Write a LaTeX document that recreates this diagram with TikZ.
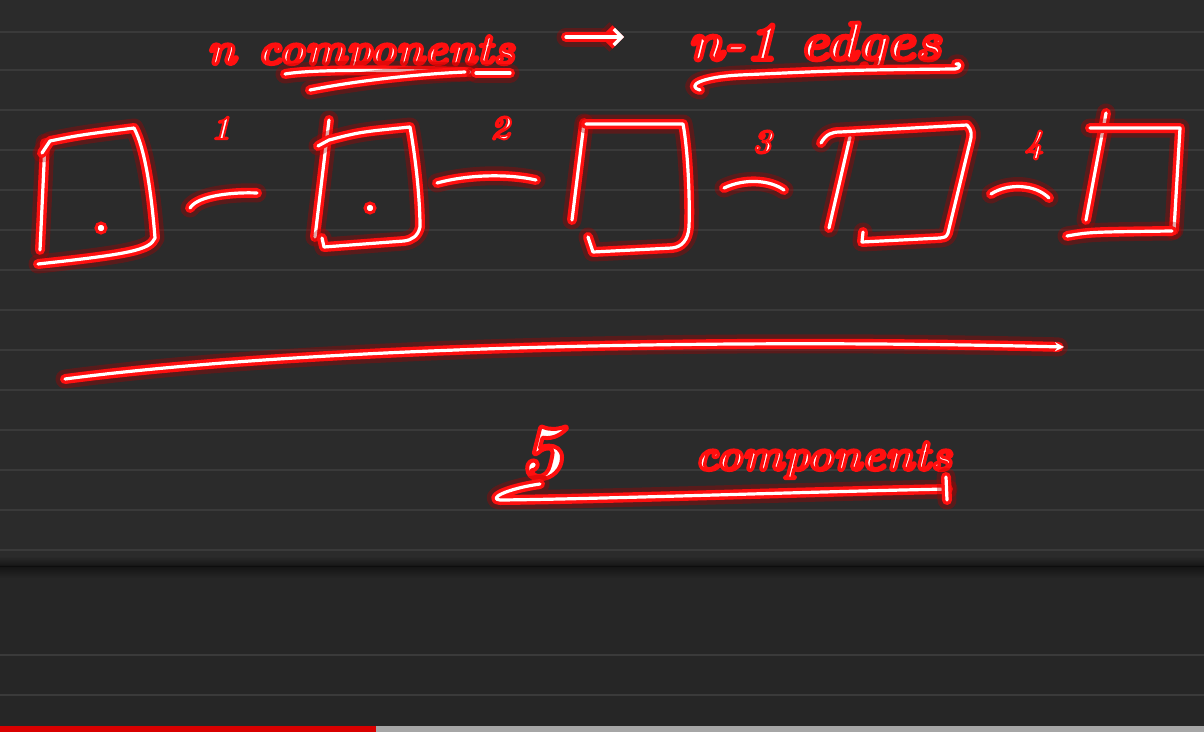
\documentclass[tikz,border=0pt]{standalone}
\usetikzlibrary{arrows.meta}
\definecolor{bg}{HTML}{2B2B2B}
\definecolor{bgdark}{HTML}{262626}
\definecolor{rule}{HTML}{3A3A3A}
\definecolor{glowred}{HTML}{FF1010}
\definecolor{glowdeep}{HTML}{B00000}
\newcommand\glowtxt[2][3.4]{\special{pdf:literal direct 1 0.06 0.06 RG #1 w 1 j 2 Tr}#2\special{pdf:literal direct 0 Tr}}
\tikzset{
  ink/.style={draw=white, line width=3.2pt, line cap=round, line join=round,
    preaction={draw=glowdeep, line width=19pt, opacity=0.35, line cap=round, line join=round},
    preaction={draw=glowred, line width=10pt, line cap=round, line join=round}},
  word/.style={text=white, inner sep=0pt, font=\bfseries\itshape\fontsize{44}{46}\selectfont},
  num/.style={text=white, inner sep=0pt, font=\bfseries\itshape\fontsize{34}{36}\selectfont},
  tip/.style={-{Stealth[length=9pt,width=9pt]}},
  chev/.style={-{Straight Barb[length=8pt,width=16pt]}}
}
\begin{document}
\begin{tikzpicture}[x=1pt,y=-1pt]
\useasboundingbox (0,0) rectangle (1204,732);
% background
\fill[bg] (0,0) rectangle (1204,565);
\fill[bgdark] (0,565) rectangle (1204,732);
\shade[top color=bg, bottom color=black!80!bg, opacity=.6] (0,556) rectangle (1204,566);
\shade[top color=black!80!bg, bottom color=bgdark, opacity=.6] (0,566) rectangle (1204,578);
\foreach \yy in {32,70,110,150,190,230,270,310,350,390,430,470,510,550,655,695}
  \draw[rule, line width=1.5pt] (0,\yy) -- (1204,\yy);
% progress bar
\fill[red!85!black] (0,726) rectangle (376,732);
\fill[gray!70] (376,726) rectangle (1204,732);

% top line of text
\node[word, anchor=base west] (ncomp) at (207,64) {\glowtxt{n\hspace{22pt}components}};
\node[word, anchor=base west, font=\bfseries\itshape\fontsize{54}{56}\selectfont] (edges) at (688,60) {\glowtxt[3.8]{n-1 edges}};
\coordinate (a1) at (566,37);
\coordinate (a2) at (624,37);
\draw[ink, chev] (a1) -- (a2);
% underlines at top
\draw[ink] (285,74) .. controls (320,68) and (420,71) .. (470,72);
\draw[ink] (310,90) .. controls (360,80) and (420,74) .. (465,72);
\draw[ink] (476,73) -- (510,73);
\draw[ink] (700,90) .. controls (686,86) and (700,77) .. (740,75)
  .. controls (850,70) .. (955,69) .. controls (962,68) and (960,62) .. (956,64);

% boxes (hand drawn)
\node[inner sep=0pt, minimum width=115pt, minimum height=130pt] (b1) at (97,195) {};
\draw[ink] (45,143) -- (40,250);
\draw[ink] (42,153) -- (50,141) .. controls (80,135) .. (134,128)
  .. controls (146,150) and (152,200) .. (155,238)
  .. controls (150,250) and (130,254) .. (38,264);
\fill[white] (101,228) circle (3.5pt);
\draw[glowred, line width=3pt] (101,228) circle (5pt);

\node[inner sep=0pt, minimum width=110pt, minimum height=130pt] (b2) at (368,185) {};
\draw[ink] (329,120) -- (315,237);
\draw[ink] (318,146) -- (329,140) .. controls (360,132) .. (410,127)
  .. controls (416,160) and (420,200) .. (420,227)
  .. controls (418,236) and (412,240) .. (404,241) -- (324,247) -- (322,238);
\fill[white] (370,208) circle (3.5pt);
\draw[glowred, line width=3pt] (370,208) circle (5pt);

\node[inner sep=0pt, minimum width=125pt, minimum height=135pt] (b3) at (630,188) {};
\draw[ink] (584,123) -- (572,220);
\draw[ink] (586,124) -- (683,124) .. controls (688,150) and (690,200) .. (689,227)
  .. controls (688,240) and (682,247) .. (672,248) -- (593,252) -- (588,237);

\node[inner sep=0pt, minimum width=130pt, minimum height=120pt] (b4) at (895,185) {};
\draw[ink] (850,137) -- (829,228);
\draw[ink] (821,143) .. controls (826,134) and (832,132) .. (840,132) -- (967,125)
  .. controls (972,130) and (972,135) .. (970,142) -- (948,233)
  .. controls (946,237) .. (940,238) -- (862,242) -- (863,232);

\node[inner sep=0pt, minimum width=115pt, minimum height=125pt] (b5) at (1125,175) {};
\draw[ink] (1106,113) -- (1086,220);
\draw[ink] (1090,128) -- (1180,128) -- (1174,230);
\draw[ink] (1067,236) .. controls (1090,232) .. (1172,231);

% edges between boxes
\coordinate (c1s) at (190,208); \coordinate (c1e) at (257,193);
\coordinate (c2s) at (437,183); \coordinate (c2e) at (536,180);
\coordinate (c3s) at (724,188); \coordinate (c3e) at (784,190);
\coordinate (c4s) at (991,194); \coordinate (c4e) at (1049,198);
\draw[ink] (c1s) .. controls (198,195) and (235,192) .. (c1e);
\draw[ink] (c2s) .. controls (470,174) and (510,174) .. (c2e);
\draw[ink] (c3s) .. controls (745,178) and (770,180) .. (c3e);
\draw[ink] (c4s) .. controls (1008,183) and (1035,184) .. (c4e);
\node[num] (l1) at (221,128) {\glowtxt[2]{1}};
\node[num] (l2) at (500,128) {\glowtxt[2]{2}};
\node[num] (l3) at (762,142) {\glowtxt[2]{3}};
\node[num] (l4) at (1034,145) {\glowtxt[2]{4}};

% long arrow
\coordinate (la) at (65,379);
\coordinate (lb) at (1064,347);
\draw[ink, tip] (la) .. controls (300,348) and (700,338) .. (lb);

% bottom text
\node[word, anchor=base, font=\bfseries\itshape\fontsize{78}{80}\selectfont] (five) at (541,478) {\glowtxt[4]{5}};
\node[word, anchor=base west] (comp2) at (695,470) {\glowtxt{components}};
\coordinate (ua) at (948,489);
\draw[ink] (ua) .. controls (800,492) and (600,499) .. (500,500)
  .. controls (488,499) and (505,489) .. (540,484);
\draw[ink] (946,477) -- (947,500);
\end{tikzpicture}
\end{document}
